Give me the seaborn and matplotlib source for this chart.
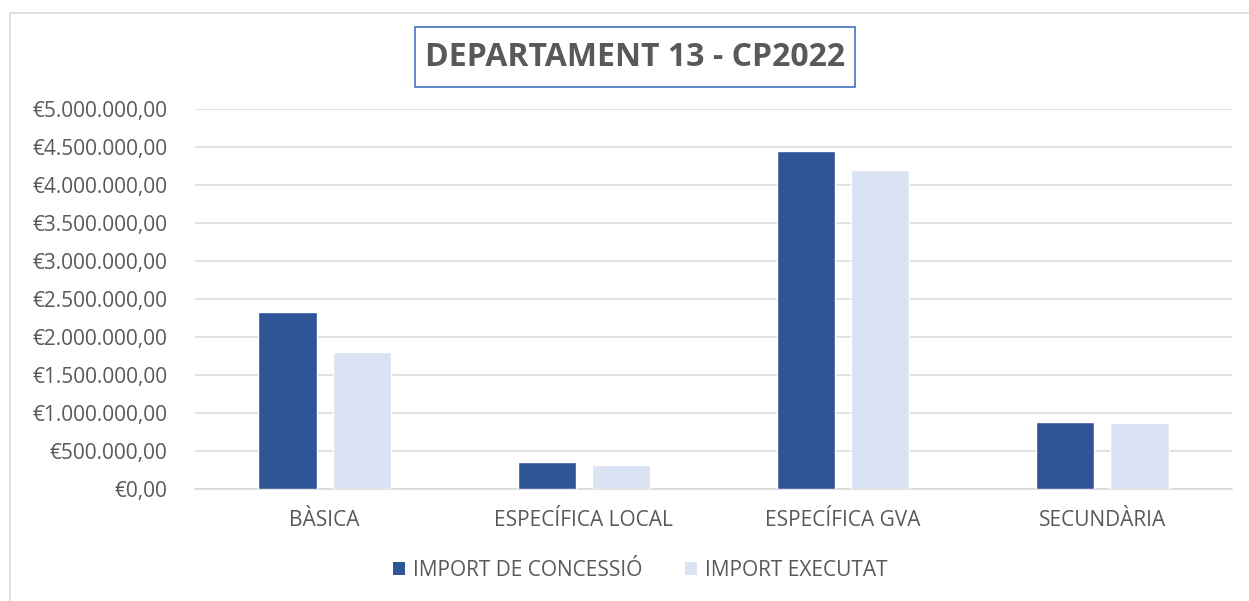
import numpy as np
import pandas as pd
import seaborn as sns
import matplotlib.pyplot as plt
from matplotlib.patches import Rectangle, Patch
from matplotlib.ticker import FuncFormatter, MultipleLocator

# Data
categories = ["BÀSICA", "ESPECÍFICA LOCAL", "ESPECÍFICA GVA", "SECUNDÀRIA"]
import_concessio = [2328000, 359000, 4453000, 878000]
import_executat = [1805000, 310000, 4196000, 864000]
series_names = ["IMPORT DE CONCESSIÓ", "IMPORT EXECUTAT"]
colors = ["#2F5597", "#DAE3F3"]

df = pd.DataFrame({
    "cat": categories * 2,
    "serie": [series_names[0]] * 4 + [series_names[1]] * 4,
    "valor": import_concessio + import_executat,
})

sns.set_style("white")
plt.rcParams["font.family"] = ["Open Sans", "DejaVu Sans"]
grey = "#595959"

fig = plt.figure(figsize=(12.49, 6.01), dpi=100, facecolor="white")
ax = fig.add_axes([195 / 1249, 1 - 489 / 601, (1232 - 195) / 1249, (489 - 109) / 601])

sns.barplot(
    data=df, x="cat", y="valor", hue="serie",
    palette=colors, width=0.572, gap=0.216,
    saturation=1, legend=False, ax=ax, zorder=3,
)

ax.set_ylim(0, 5000000)
ax.set_xlim(-0.5, 3.5)
ax.yaxis.set_major_locator(MultipleLocator(500000))


def euro(v, pos):
    s = "{:,.2f}".format(v).replace(",", "X").replace(".", ",").replace("X", ".")
    return "€" + s


ax.yaxis.set_major_formatter(FuncFormatter(euro))
ax.grid(axis="y", color="#d9d9d9", linewidth=1.1, zorder=0)
ax.grid(axis="x", visible=False)
for s in ["top", "right", "left"]:
    ax.spines[s].set_visible(False)
ax.spines["bottom"].set_color("#d9d9d9")
ax.spines["bottom"].set_linewidth(1.1)
ax.tick_params(axis="y", length=0, pad=20, labelsize=15, labelcolor=grey)
ax.tick_params(axis="x", length=0, pad=15, labelsize=15, labelcolor=grey)
ax.set_xlabel("")
ax.set_ylabel("")

# Title with blue box
fig.patches.append(Rectangle((415 / 1249, 1 - 87 / 601), 440 / 1249, 60 / 601,
                             transform=fig.transFigure, fill=False,
                             edgecolor="#4472C4", linewidth=1.2))
fig.text(635 / 1249, 1 - 58 / 601, "DEPARTAMENT 13 - CP2022", ha="center", va="center",
         fontsize=23, fontweight="bold", color=grey)

# Outer chart border (right and bottom fall outside the picture)
fig.patches.append(Rectangle((10 / 1249, -0.05), 1.1, 1 - 13 / 601 + 0.05,
                             transform=fig.transFigure, fill=False,
                             edgecolor="#d9d9d9", linewidth=1.2))

handles = [Patch(facecolor=c, edgecolor="none") for c in colors]
fig.legend(handles, series_names, loc="center", bbox_to_anchor=(640 / 1249, 1 - 570 / 601),
           ncol=2, frameon=False, fontsize=15, labelcolor=grey,
           handlelength=0.6, handleheight=0.6, handletextpad=0.35, columnspacing=2.05)

plt.savefig("out.png", dpi=100, facecolor="white")
